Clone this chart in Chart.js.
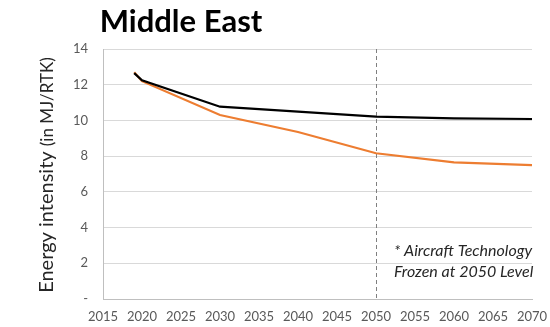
<!DOCTYPE html>
<html>
<head>
<meta charset="utf-8">
<script src="https://cdn.jsdelivr.net/npm/chart.js@4"></script>
<style>
  html, body { margin: 0; padding: 0; background: #fff; }
  #wrap { width: 550px; height: 327px; }
</style>
</head>
<body>
<div id="wrap"><canvas id="myChart" width="550" height="327"></canvas></div>
<script>
// values
var years = [2019, 2020, 2030, 2040, 2050, 2060, 2070];
var frozenTech = [12.65, 12.25, 10.77, 10.49, 10.21, 10.12, 10.08];
var improvingTech = [12.7, 12.2, 10.3, 9.35, 8.16, 7.65, 7.5];
var markerYear = 2050;

var chartTitle = "Middle East";
var noteLines = ["* Aircraft Technology", "Frozen at 2050 Level"];

function toPoints(vals) {
    var pts = [];
    for (let i = 0; i < years.length; i++) {
        pts.push({ x: years[i], y: vals[i] });
    }
    return pts;
}

// draws title, y title, the 2050 marker and the note
var extras = {
    id: 'extras',
    beforeDatasetsDraw: function (chart) {
        var ctx = chart.ctx;
        var x = chart.scales.x.getPixelForValue(markerYear);
        var area = chart.chartArea;
        ctx.save();
        ctx.strokeStyle = '#7f7f7f';
        ctx.lineWidth = 1;
        ctx.setLineDash([4, 3]);
        ctx.beginPath();
        ctx.moveTo(Math.round(x) + 0.5, area.top);
        ctx.lineTo(Math.round(x) + 0.5, area.bottom);
        ctx.stroke();
        ctx.restore();
    },
    afterDraw: function (chart) {
        var ctx = chart.ctx;
        ctx.save();
        ctx.fillStyle = '#000';
        ctx.font = 'bold 31px Lato';
        ctx.textAlign = 'center';
        ctx.textBaseline = 'alphabetic';
        ctx.fillText(chartTitle, 181, 32);

        // y title, two sizes
        ctx.translate(53, 175);
        ctx.rotate(-Math.PI / 2);
        ctx.fillStyle = '#262626';
        var big = 'Energy intensity ';
        var small = '(in MJ/RTK)';
        ctx.font = '20px Lato';
        var wb = ctx.measureText(big).width;
        ctx.font = '17px Lato';
        var ws = ctx.measureText(small).width;
        var start = -(wb + ws) / 2;
        ctx.textAlign = 'left';
        ctx.font = '20px Lato';
        ctx.fillText(big, start, 0);
        ctx.font = '17px Lato';
        ctx.fillText(small, start + wb, 0);
        ctx.restore();

        ctx.save();
        ctx.fillStyle = '#262626';
        ctx.font = 'italic 16px Lato';
        ctx.textAlign = 'left';
        ctx.fillText(noteLines[0], 394, 256);
        ctx.fillText(noteLines[1], 394, 277);
        ctx.restore();
    }
};

var ctx = document.getElementById('myChart').getContext('2d');
var myChart = new Chart(ctx, {
    type: 'line',
    data: {
        datasets: [{
            label: 'Frozen technology',
            data: toPoints(frozenTech),
            borderColor: '#000000',
            backgroundColor: '#000000',
            borderWidth: 2.2,
            pointRadius: 0,
            tension: 0
        }, {
            label: 'Improving technology',
            data: toPoints(improvingTech),
            borderColor: '#ED7D31',
            backgroundColor: '#ED7D31',
            borderWidth: 2.2,
            pointRadius: 0,
            tension: 0
        }]
    },
    options: {
        responsive: false,
        animation: false,
        layout: { padding: { top: 49, right: 18, bottom: 0, left: 0 } },
        plugins: {
            legend: { display: false },
            tooltip: { enabled: false }
        },
        scales: {
            x: {
                type: 'linear',
                min: 2015,
                max: 2070,
                ticks: {
                    stepSize: 5,
                    color: '#595959',
                    font: { family: 'Lato', size: 13 },
                    padding: 10,
                    maxRotation: 0,
                    callback: function (v) { return String(v); }
                },
                grid: { display: false, drawTicks: false },
                border: { color: '#bfbfbf' },
                afterFit: function (scale) {
                    scale.height = 28;
                    scale.paddingLeft = 0;
                    scale.paddingRight = 0;
                }
            },
            y: {
                min: 0,
                max: 14,
                ticks: {
                    stepSize: 2,
                    color: '#595959',
                    font: { family: 'Lato', size: 13 },
                    padding: 15,
                    callback: function (v) { return v === 0 ? '-' : v; }
                },
                grid: { color: '#d9d9d9', drawTicks: false },
                border: { color: '#bfbfbf' },
                afterFit: function (scale) { scale.width = 103; }
            }
        }
    },
    plugins: [extras]
});
</script>
</body>
</html>
